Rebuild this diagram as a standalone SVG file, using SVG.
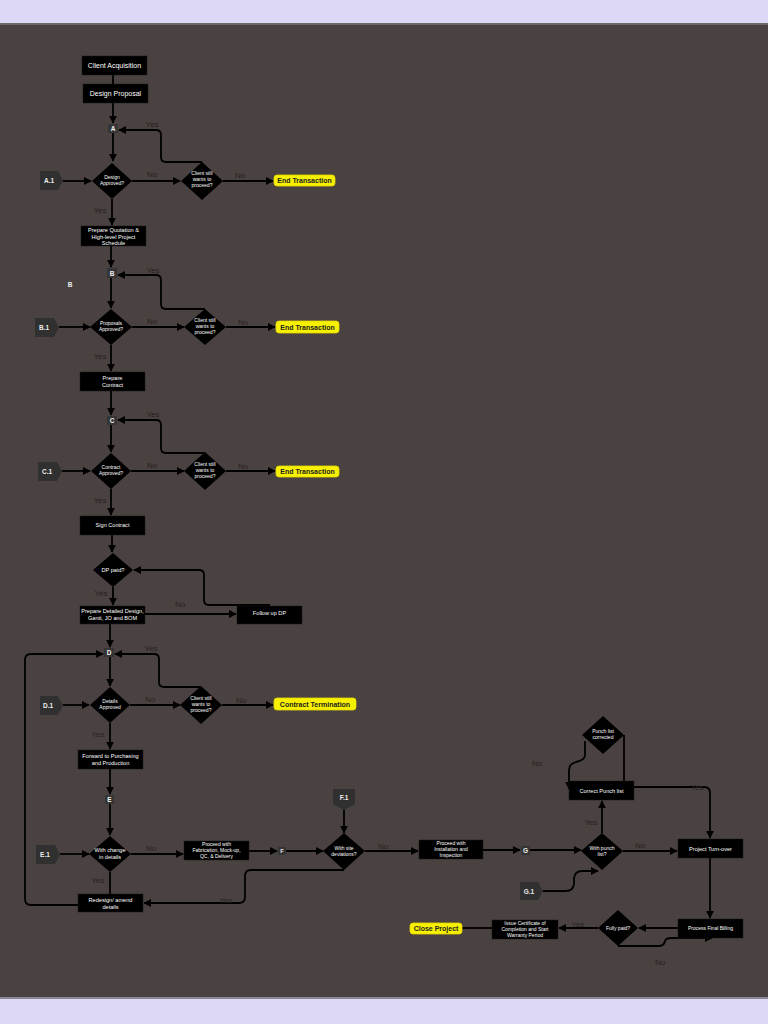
<svg xmlns="http://www.w3.org/2000/svg" width="768" height="1024" viewBox="0 0 768 1024">
<defs>
<marker id="ah" viewBox="0 0 10 10" refX="9" refY="5" markerWidth="4.5" markerHeight="4.5" orient="auto" markerUnits="strokeWidth">
<path d="M0,0 L10,5 L0,10 z" fill="#000"/>
</marker>
<style>
.bx{fill:#000;stroke:#1a1a1a;stroke-width:0.5}
.dm{fill:#000}
.cn{fill:#353535}
.pt{fill:#303030}
.pill{fill:#f7f000;stroke:#e6d800;stroke-width:0.8}
.t{font-family:"Liberation Sans",Arial,sans-serif;fill:#fff;text-anchor:middle}
.s7{font-size:7px}
.s6{font-size:5.6px}
.s5{font-size:5px}
.lb{font-family:"Liberation Sans",Arial,sans-serif;font-size:8px;fill:#262121;text-anchor:middle}
.pl{font-family:"Liberation Sans",Arial,sans-serif;font-size:7px;font-weight:bold;fill:#222;text-anchor:middle}
.cl{font-family:"Liberation Sans",Arial,sans-serif;font-size:6.5px;font-weight:bold;fill:#eee;text-anchor:middle}
.ln{fill:none;stroke:#000;stroke-width:1.8}
.ar{marker-end:url(#ah)}
</style>
</defs>
<rect x="0" y="0" width="768" height="1024" fill="#ddd8f6"/>
<rect x="0" y="23" width="768" height="976" fill="#4a4240"/>
<rect x="0" y="23" width="768" height="2" fill="#6e6766"/>
<rect x="0" y="997" width="768" height="2" fill="#8d8697"/>

<g id="connectors">
<path class="ln" d="M113,75 V84"/>
<path class="ln ar" d="M113,103 V123"/>
<path class="ln ar" d="M113,133 V161"/>
<path class="ln ar" d="M63,181 H91"/>
<path class="ln ar" d="M132,181 H180"/>
<path class="ln ar" d="M223,181 H273"/>
<path class="ln ar" d="M202,162 H166 Q161,162 161,157 V135 Q161,130 156,130 H119"/>
<path class="ln ar" d="M112,199 V225"/>
<path class="ln ar" d="M111,246 V267"/>
<path class="ln ar" d="M111,278 V308"/>
<path class="ln ar" d="M59,327 H90"/>
<path class="ln ar" d="M132,327 H184"/>
<path class="ln ar" d="M226,327 H275"/>
<path class="ln ar" d="M205,309 H166 Q161,309 161,304 V280 Q161,275 156,275 H118"/>
<path class="ln ar" d="M111,345 V371"/>
<path class="ln ar" d="M111,391 V415"/>
<path class="ln ar" d="M111,425 V452"/>
<path class="ln ar" d="M62,471 H90"/>
<path class="ln ar" d="M131,471 H184"/>
<path class="ln ar" d="M226,471 H275"/>
<path class="ln ar" d="M205,453 H166 Q161,453 161,448 V425 Q161,420 156,420 H118"/>
<path class="ln ar" d="M111,489 V515"/>
<path class="ln ar" d="M112,535 V552"/>
<path class="ln ar" d="M113,587 V605"/>
<path class="ln ar" d="M145,614 H236"/>
<path class="ln ar" d="M270,605 H209 Q204,605 204,600 V575 Q204,570 199,570 H134"/>
<path class="ln ar" d="M110,624 V647"/>
<path class="ln ar" d="M110,657 V686"/>
<path class="ln ar" d="M63,705 H89"/>
<path class="ln ar" d="M130,705 H180"/>
<path class="ln ar" d="M222,705 H273"/>
<path class="ln ar" d="M201,687 H164 Q159,687 159,682 V659 Q159,654 154,654 H115"/>
<path class="ln ar" d="M110,723 V749"/>
<path class="ln ar" d="M110,769 V794"/>
<path class="ln ar" d="M110,804 V835"/>
<path class="ln ar" d="M60,854 H89"/>
<path class="ln ar" d="M131,854 H183"/>
<path class="ln ar" d="M249,851 H277"/>
<path class="ln ar" d="M286,851 H323"/>
<path class="ln ar" d="M344,809 V833"/>
<path class="ln ar" d="M365,851 H418"/>
<path class="ln" d="M110,872 V894"/>
<path class="ln ar" d="M78,905 H31 Q25,905 25,899 V660 Q25,654 31,654 H103"/>
<path class="ln ar" d="M344,870 H251 Q245,870 245,876 V897 Q245,903 239,903 H144"/>
<path class="ln ar" d="M483,850 H520"/>
<path class="ln ar" d="M530,850 H581"/>
<path class="ln ar" d="M602,833 V801"/>
<path class="ln ar" d="M543,891 H566 Q573,891 574,884 V878 Q575,871 582,871 H598"/>
<path class="ln ar" d="M623,851 H677"/>
<path class="ln ar" d="M634,787 H704 Q710,787 710,793 V838"/>
<path class="ln" d="M624,735 V781"/>
<path class="ln ar" d="M585,741 V755 Q585,760 576,762 Q569,764 569,770 V789"/>
<path class="ln ar" d="M710,858 V918"/>
<path class="ln ar" d="M678,928 H639"/>
<path class="ln ar" d="M598,928 H559"/>
<path class="ln" d="M492,928 H462"/>
<path class="ln ar" d="M618,946 H659 Q664,946 665,941 Q666,938 671,938 H712"/>
</g>

<g id="n-client-acquisition"><rect class="bx" x="82" y="56" width="65" height="19"/><text class="t s7" x="114.5" y="68">Client Acquisition</text></g>
<g id="n-design-proposal"><rect class="bx" x="83" y="84" width="65" height="19"/><text class="t s7" x="115.5" y="96">Design Proposal</text></g>
<g id="n-a"><rect class="cn" x="108" y="124" width="10" height="9"/><text class="cl" x="113" y="131">A</text></g>
<g id="n-a1"><polygon class="pt" points="40,171 58,171 63,180.5 58,190 40,190"/><text class="cl" x="49" y="183">A.1</text></g>
<g id="n-design-approved"><polygon class="dm" points="112,163 132,181 112,199 92,181"/><text class="t s5" x="112" y="179">Design</text><text class="t s5" x="112" y="185">Approved?</text></g>
<g id="n-client1"><polygon class="dm" points="202,162 223,181 202,200 181,181"/><text class="t s5" x="202" y="175">Client still</text><text class="t s5" x="202" y="181">wants to</text><text class="t s5" x="202" y="187">proceed?</text></g>
<g id="n-end1"><rect class="pill" x="274" y="175" width="61" height="11" rx="3"/><text class="pl" x="304.5" y="183">End Transaction</text></g>

<g id="n-quotation"><rect class="bx" x="81" y="226" width="65" height="20"/><text class="t s6" x="113.5" y="232">Prepare Quotation  &amp;</text><text class="t s6" x="113.5" y="238.5">High-level Project</text><text class="t s6" x="113.5" y="244.5">Schedule</text></g>
<g id="n-b"><rect class="cn" x="107" y="268" width="10" height="10"/><text class="cl" x="112" y="275.5">B</text></g>
<text class="cl" x="70" y="286.5">B</text>
<g id="n-b1"><polygon class="pt" points="35,318 54,318 59,327.5 54,337 35,337"/><text class="cl" x="44" y="330">B.1</text></g>
<g id="n-proposals-approved"><polygon class="dm" points="111,309 132,327 111,345 90,327"/><text class="t s5" x="111" y="325">Proposals</text><text class="t s5" x="111" y="331">Approved?</text></g>
<g id="n-client2"><polygon class="dm" points="205,309 226,327 205,345 184,327"/><text class="t s5" x="205" y="322">Client still</text><text class="t s5" x="205" y="328">wants to</text><text class="t s5" x="205" y="334">proceed?</text></g>
<g id="n-end2"><rect class="pill" x="276" y="321" width="63" height="12" rx="3"/><text class="pl" x="307.5" y="329.5">End Transaction</text></g>

<g id="n-prepare-contract"><rect class="bx" x="80" y="372" width="65" height="19"/><text class="t s6" x="112.5" y="380">Prepare</text><text class="t s6" x="112.5" y="386.5">Contract</text></g>
<g id="n-c"><rect class="cn" x="107" y="416" width="10" height="9"/><text class="cl" x="112" y="423">C</text></g>
<g id="n-c1"><polygon class="pt" points="38,462 57,462 62,471.5 57,481 38,481"/><text class="cl" x="47" y="474">C.1</text></g>
<g id="n-contract-approved"><polygon class="dm" points="111,453 131,471 111,489 91,471"/><text class="t s5" x="111" y="469">Contract</text><text class="t s5" x="111" y="475">Approved?</text></g>
<g id="n-client3"><polygon class="dm" points="205,452 226,471 205,490 184,471"/><text class="t s5" x="205" y="466">Client still</text><text class="t s5" x="205" y="472">wants to</text><text class="t s5" x="205" y="478">proceed?</text></g>
<g id="n-end3"><rect class="pill" x="276" y="466" width="63" height="11" rx="3"/><text class="pl" x="307.5" y="474">End Transaction</text></g>

<g id="n-sign-contract"><rect class="bx" x="80" y="516" width="65" height="19"/><text class="t s6" x="112.5" y="527">Sign Contract</text></g>
<g id="n-dp-paid"><polygon class="dm" points="113,553 133,570 113,587 93,570"/><text class="t s6" x="113" y="572">DP paid?</text></g>
<g id="n-detailed-design"><rect class="bx" x="80" y="606" width="65" height="18"/><text class="t s6" x="112.5" y="613">Prepare Detailed Design,</text><text class="t s6" x="112.5" y="619.5">Gantt, JO and BOM</text></g>
<g id="n-follow-up"><rect class="bx" x="237" y="606" width="65" height="18"/><text class="t s6" x="269.5" y="615">Follow up DP</text></g>

<g id="n-d"><rect class="cn" x="104" y="648" width="10" height="9"/><text class="cl" x="109" y="655">D</text></g>
<g id="n-d1"><polygon class="pt" points="40,696 58,696 63,705.5 58,715 40,715"/><text class="cl" x="48" y="708">D.1</text></g>
<g id="n-details-approved"><polygon class="dm" points="110,687 130,705 110,723 90,705"/><text class="t s5" x="110" y="703">Details</text><text class="t s5" x="110" y="709">Approved</text></g>
<g id="n-client4"><polygon class="dm" points="201,686 222,705 201,724 180,705"/><text class="t s5" x="201" y="700">Client still</text><text class="t s5" x="201" y="706">wants to</text><text class="t s5" x="201" y="712">proceed?</text></g>
<g id="n-termination"><rect class="pill" x="274" y="698" width="82" height="12" rx="3"/><text class="pl" x="315" y="706.5">Contract Termination</text></g>

<g id="n-forward"><rect class="bx" x="78" y="750" width="65" height="19"/><text class="t s6" x="110.5" y="758">Forward to Purchasing</text><text class="t s6" x="110.5" y="764.5">and Production</text></g>
<g id="n-e"><rect class="cn" x="105" y="795" width="9" height="9"/><text class="cl" x="109.5" y="802">E</text></g>
<g id="n-e1"><polygon class="pt" points="36,845 55,845 60,854.5 55,864 36,864"/><text class="cl" x="45" y="857">E.1</text></g>
<g id="n-with-change"><polygon class="dm" points="110,836 131,854 110,872 89,854"/><text class="t s6" x="110" y="852">With change</text><text class="t s6" x="110" y="858.5">in details</text></g>
<g id="n-fabrication"><rect class="bx" x="184" y="841" width="65" height="19"/><text class="t s5" x="216.5" y="846">Proceed with</text><text class="t s5" x="216.5" y="852">Fabrication, Mock-up,</text><text class="t s5" x="216.5" y="858">QC, &amp; Delivery</text></g>
<g id="n-f"><rect class="cn" x="278" y="847" width="8" height="8"/><text class="cl" x="282" y="853" style="font-size:5.5px">F</text></g>
<g id="n-f1"><polygon class="pt" points="333,789 355,789 355,804 344,810 333,804"/><text class="cl" x="344" y="800">F.1</text></g>
<g id="n-site-deviations"><polygon class="dm" points="344,833 365,851 344,870 323,851"/><text class="t s5" x="344" y="850">With site</text><text class="t s5" x="344" y="856">deviations?</text></g>
<g id="n-redesign"><rect class="bx" x="78" y="894" width="65" height="18"/><text class="t s6" x="110.5" y="902">Redesign/ amend</text><text class="t s6" x="110.5" y="908.5">details</text></g>

<g id="n-installation"><rect class="bx" x="419" y="840" width="64" height="19"/><text class="t s5" x="451" y="845">Proceed with</text><text class="t s5" x="451" y="851">Installation and</text><text class="t s5" x="451" y="857">Inspection</text></g>
<g id="n-g"><rect class="cn" x="521" y="846" width="9" height="9"/><text class="cl" x="525.5" y="853">G</text></g>
<g id="n-g1"><polygon class="pt" points="520,882 538,882 543,891 538,900 520,900"/><text class="cl" x="529" y="893.5">G.1</text></g>
<g id="n-punch-list"><polygon class="dm" points="602,833 623,851 602,870 581,851"/><text class="t s5" x="602" y="850">With punch</text><text class="t s5" x="602" y="856">list?</text></g>
<g id="n-correct-punch"><rect class="bx" x="569" y="781" width="65" height="19"/><text class="t s6" x="601.5" y="792.5">Correct Punch list</text></g>
<g id="n-punch-corrected"><polygon class="dm" points="603,716 624,735 603,754 582,735"/><text class="t s5" x="603" y="733">Punch list</text><text class="t s5" x="603" y="739">corrected</text></g>
<g id="n-turnover"><rect class="bx" x="678" y="839" width="65" height="19"/><text class="t s6" x="710.5" y="850.5">Project Turn-over</text></g>
<g id="n-final-billing"><rect class="bx" x="678" y="919" width="65" height="19"/><text class="t s5" x="710.5" y="930">Process Final Billing</text></g>
<g id="n-fully-paid"><polygon class="dm" points="618,910 638,928 618,946 598,928"/><text class="t s5" x="618" y="930">Fully paid?</text></g>
<g id="n-certificate"><rect class="bx" x="492" y="920" width="66" height="19"/><text class="t s5" x="525" y="924.5">Issue Certificate of</text><text class="t s5" x="525" y="930.5">Completion and Start</text><text class="t s5" x="525" y="936.5">Warranty Period</text></g>
<g id="n-close-project"><rect class="pill" x="410" y="923" width="52" height="11" rx="3"/><text class="pl" x="436" y="931">Close Project</text></g>

<g id="labels">
<text class="lb" x="152" y="127">Yes</text>
<text class="lb" x="152" y="177">No</text>
<text class="lb" x="240" y="178">No</text>
<text class="lb" x="100" y="213">Yes</text>
<text class="lb" x="153" y="273">Yes</text>
<text class="lb" x="152" y="324">No</text>
<text class="lb" x="243" y="325">No</text>
<text class="lb" x="100" y="359">Yes</text>
<text class="lb" x="153" y="417">Yes</text>
<text class="lb" x="152" y="468">No</text>
<text class="lb" x="243" y="469">No</text>
<text class="lb" x="100" y="503">Yes</text>
<text class="lb" x="101" y="596">Yes</text>
<text class="lb" x="180" y="607">No</text>
<text class="lb" x="151" y="651">Yes</text>
<text class="lb" x="150" y="702">No</text>
<text class="lb" x="241" y="703">No</text>
<text class="lb" x="98" y="737">Yes</text>
<text class="lb" x="151" y="851">No</text>
<text class="lb" x="98" y="883">Yes</text>
<text class="lb" x="226" y="903">Yes</text>
<text class="lb" x="383" y="849">No</text>
<text class="lb" x="537" y="766">No</text>
<text class="lb" x="591" y="825">Yes</text>
<text class="lb" x="640" y="848">No</text>
<text class="lb" x="697" y="790">Yes</text>
<text class="lb" x="578" y="927">Yes</text>
<text class="lb" x="660" y="965">No</text>
</g>
</svg>
